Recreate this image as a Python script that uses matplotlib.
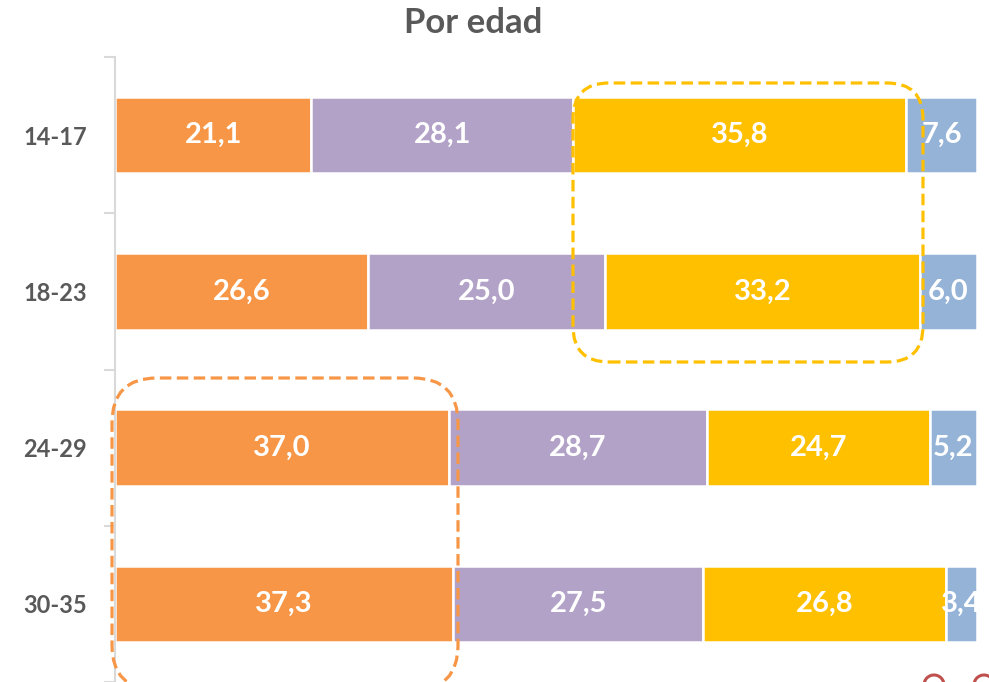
import matplotlib
matplotlib.use('Agg')
import matplotlib.pyplot as plt
from matplotlib.patches import FancyBboxPatch, Circle
from matplotlib.transforms import IdentityTransform
import numpy as np

# datos
grupos = ['14-17', '18-23', '24-29', '30-35']
serie1 = [21.1, 26.6, 37.0, 37.3]   # naranja
serie2 = [28.1, 25.0, 28.7, 27.5]   # morado
serie3 = [35.8, 33.2, 24.7, 26.8]   # amarillo
serie4 = [7.6, 6.0, 5.2, 3.4]       # azul

colores = ['#F79646', '#B3A2C7', '#FFC000', '#95B3D7']
gris = '#595959'

plt.rcParams['font.family'] = ['Lato', 'DejaVu Sans']

W, H = 989, 682
fig = plt.figure(figsize=(W / 100, H / 100), dpi=100)
ax = fig.add_axes([115 / W, 0, 862 / W, 625 / H])

series = np.array([serie1, serie2, serie3, serie4])
totales = series.sum(axis=0)
pct = series / totales * 100
y = np.arange(len(grupos))

izq = np.zeros(len(grupos))
for i in range(len(series)):
    barras = ax.barh(y, pct[i], left=izq, height=0.49, color=colores[i],
                     edgecolor='white', linewidth=1.8)
    for j, b in enumerate(barras):
        txt = f'{series[i][j]:.1f}'.replace('.', ',')
        ax.text(izq[j] + pct[i][j] / 2, y[j], txt, ha='center', va='center',
                color='white', fontsize=21, fontweight='bold')
    izq += pct[i]

ax.set_xlim(0, 100)
ax.set_ylim(3.5, -0.5)
ax.set_xticks([])
ax.set_yticks([-0.5, 0.5, 1.5, 2.5, 3.5])
ax.set_yticklabels([])
ax.set_yticks(y, minor=True)
ax.set_yticklabels(grupos, minor=True)
ax.tick_params(axis='y', which='major', length=8, width=1.5, color='#D9D9D9')
ax.tick_params(axis='y', which='minor', length=0, pad=20, labelsize=17,
               labelcolor=gris)
for lab in ax.get_yticklabels(minor=True):
    lab.set_fontweight('bold')
for s in ['top', 'right', 'bottom']:
    ax.spines[s].set_visible(False)
ax.spines['left'].set_color('#D9D9D9')
ax.spines['left'].set_linewidth(1.5)

fig.text(473 / W, 1 - 23 / H, 'Por edad', ha='center', va='center',
         fontsize=25, fontweight='bold', color=gris)

# recuadros punteados (en pixeles)
def recuadro(x0, y0, x1, y1, r, color):
    p = FancyBboxPatch((x0 + r, H - y1 + r), (x1 - x0) - 2 * r, (y1 - y0) - 2 * r,
                       boxstyle=f'round,pad={r}', fill=False, edgecolor=color,
                       linewidth=2.3, linestyle=(0, (3.6, 1.7)),
                       transform=IdentityTransform(), clip_on=False)
    fig.add_artist(p)

recuadro(573, 83, 923, 362, 36, '#FFC000')
recuadro(112, 378, 458, 690, 45, '#F79646')

# adornos cortados abajo a la derecha
for cx in [934, 984]:
    fig.add_artist(Circle((cx, -3), 10, fill=False, edgecolor='#C0504D',
                          linewidth=2.2, transform=IdentityTransform(),
                          clip_on=False))

fig.savefig('out.png', dpi=100)
